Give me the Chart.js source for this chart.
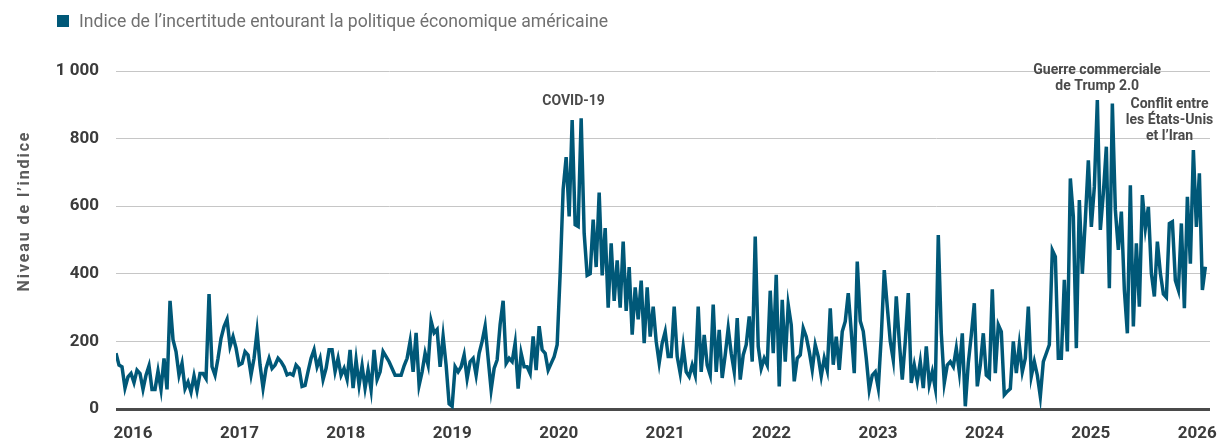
<!DOCTYPE html>
<html lang="fr">
<head>
<meta charset="utf-8">
<title>Indice de l’incertitude entourant la politique économique américaine</title>
<script src="https://cdn.jsdelivr.net/npm/chart.js@4.4.1/dist/chart.umd.min.js"></script>
<style>
  html, body { margin: 0; padding: 0; background: #fff; }
  #chart { display: block; }
</style>
</head>
<body>
<canvas id="chart" width="1232" height="440"></canvas>
<script>
// series: one point roughly every ten days
const seriesLabel = 'Indice de l’incertitude entourant la politique économique américaine';
const firstYear = 2015.84;
const yearStep = 0.0282;
const epuValues = [
  165,130,125,62,95,105,78,115,105,58, 100,128,58,58,112,58,150,58,320,205,
  170,100,135,60,80,50,98,55,105,105, 90,340,125,100,
  150,209,244,265,185,214,180,130,135,170, 160,101,150,229,130,62,120,150,120,130,
  150,140,125,101,105,100,130,120,67,70, 111,150,175,
  125,150,87,120,175,175,111,150,100,120, 88,175,62,145,70,128,62,115,57,175,
  87,110,170,155,140,120,100,100,100,128, 150,200,110,225,
  70,110,165,130,260,225,235,125,215,130, 15,8,125,110,125,160,90,140,150,100,
  165,200,245,150,57,120,145,250,320,
  135,150,140,195,60,165,125,125,105,215, 115,245,175,165,115,135,155,190,400,650,
  745,570,855,545,540,860,520,395,400,560, 420,640,395,535,
  300,490,320,440,300,495,290,420,220,360, 265,380,195,360,214,303,200,136,195,229,
  155,155,303,155,106,185,110,96,130,100, 303,110,219,130,101,309,
  110,234,92,160,239,165,111,269,87,160, 190,274,140,510,185,120,150,130,350,165,
  397,67,323,140,308,249,82,150,160,239,
  214,170,116,190,155,97,150,115,298,131, 214,116,229,259,343,229,106,436,260,230,
  150,57,100,110,62,214,411,303,200,145, 333,200,87,200,343,77,130,
  82,140,62,185,72,110,62,515,224,77, 130,140,125,180,110,224,8,136,219,313,
  67,130,224,100,92,354,106,249,229,42,
  52,60,200,106,190,110,150,303,97,140, 100,37,140,165,190,470,451,150,150,382,
  170,682,569,180,618,400,560,736,539,657, 914,530,638,776,357,904,589,471,584,352,
  224,662,244,490,303,633,535,598,402,333, 495,402,340,330,549,554,380,352,549,298,
  628,430,766,539,697,352,421
];
const yearTicks = [2016, 2017, 2018, 2019, 2020, 2021, 2022, 2023, 2024, 2025, 2026];
const levelTicks = [0, 200, 400, 600, 800, 1000];

const notes = [
  { lines: ['COVID-19'], year: 2020.14, level: 911 },
  { lines: ['Guerre commerciale', 'de Trump 2.0'], year: 2025.06, level: 1001 },
  { lines: ['Conflit entre', 'les États-Unis', 'et l’Iran'], year: 2025.74, level: 902 }
];

const lineColor = '#005878';
const textDark = '#3b3b3b';

const points = epuValues.map((v, i) => ({ x: firstYear + i * yearStep, y: v }));

function fmtLevel(v) {
  return v >= 1000 ? Math.floor(v / 1000) + ' ' + String(v % 1000).padStart(3, '0') : String(v);
}

const decorations = {
  id: 'decorations',
  afterDraw(chart) {
    const { ctx, scales: { x, y } } = chart;
    ctx.save();

    // legend (text squeezed to the narrow face of the original)
    ctx.fillStyle = lineColor;
    ctx.fillRect(57, 15, 12, 12);
    ctx.fillStyle = '#707070';
    ctx.font = '19px Roboto, sans-serif';
    ctx.textBaseline = 'middle';
    ctx.textAlign = 'left';
    const label = chart.data.datasets[0].label;
    const squeeze = 529 / ctx.measureText(label).width;
    ctx.save();
    ctx.translate(79, 22);
    ctx.scale(squeeze, 1);
    ctx.fillText(label, 0, 0);
    ctx.restore();

    // y axis title
    ctx.save();
    ctx.translate(25, 211);
    ctx.rotate(-Math.PI / 2);
    ctx.font = 'bold 16px Roboto, sans-serif';
    ctx.letterSpacing = '1.9px';
    ctx.fillStyle = '#5a5a5a';
    ctx.textAlign = 'center';
    ctx.fillText('Niveau de l’indice', 0, 0);
    ctx.restore();

    // event notes
    ctx.font = 'bold 14px Roboto, sans-serif';
    ctx.fillStyle = '#4a4a4a';
    ctx.textAlign = 'center';
    notes.forEach(n => {
      const px = x.getPixelForValue(n.year);
      const py = y.getPixelForValue(n.level);
      n.lines.forEach((t, k) => ctx.fillText(t, px, py + k * 16));
    });
    ctx.restore();
  }
};

new Chart(document.getElementById('chart'), {
  type: 'line',
  data: {
    datasets: [{
      label: seriesLabel,
      data: points,
      borderColor: lineColor,
      backgroundColor: lineColor,
      borderWidth: 3.5,
      pointRadius: 0,
      tension: 0,
      fill: false
    }]
  },
  options: {
    responsive: false,
    animation: false,
    devicePixelRatio: 1,
    layout: { padding: { left: 40, right: 22, top: 71, bottom: 0 } },
    plugins: {
      legend: { display: false },
      tooltip: { enabled: false }
    },
    scales: {
      x: {
        type: 'linear',
        min: 2015.84,
        max: 2026.12,
        afterBuildTicks: s => { s.ticks = yearTicks.map(v => ({ value: v })); },
        afterFit: s => { s.height = 31; },
        ticks: {
          autoSkip: false,
          maxRotation: 0,
          padding: 7,
          color: textDark,
          font: { family: 'Roboto', weight: 'bold', size: 17, lineHeight: 1.1 },
          callback: v => String(v)
        },
        grid: { display: false },
        border: { display: false }
      },
      y: {
        min: 0,
        max: 1000,
        afterBuildTicks: s => { s.ticks = levelTicks.map(v => ({ value: v })); },
        afterFit: s => { s.width = 76; },
        ticks: {
          padding: 17,
          color: textDark,
          font: { family: 'Roboto', weight: 'bold', size: 17 },
          callback: v => fmtLevel(v)
        },
        grid: {
          drawTicks: false,
          color: c => c.tick.value === 0 ? '#4a4a4a' : '#c6c6c6',
          lineWidth: c => c.tick.value === 0 ? 3 : 1
        },
        border: { display: false }
      }
    }
  },
  plugins: [decorations]
});
</script>
</body>
</html>
